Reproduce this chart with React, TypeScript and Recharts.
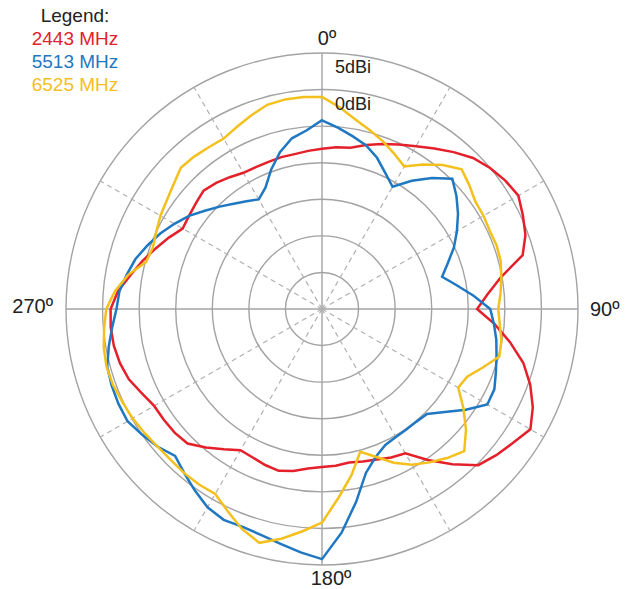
import React from 'react';
import { RadarChart, Radar, PolarGrid, PolarAngleAxis, PolarRadiusAxis } from 'recharts';

// azimuth in degrees, clockwise from the top
const angles = [
  0, 5, 10, 15, 20, 25, 30, 35, 40, 45, 50, 55, 60, 65, 70, 75, 80, 85,
  90, 95, 100, 105, 110, 115, 120, 125, 130, 135, 140, 145, 150, 155, 160, 165, 170, 175,
  180, 185, 190, 195, 200, 205, 210, 215, 220, 225, 230, 235, 240, 245, 250, 255, 260, 265,
  270, 275, 280, 285, 290, 295, 300, 305, 310, 315, 320, 325, 330, 335, 340, 345, 350, 355,
];

// gain in dBi at each angle
const gain2443 = [
  -8.1, -7.8, -7.6, -6.8, -6.0, -5.2, -4.3, -3.2, -2.0, -0.8, 0.0, 0.6, 1.0, 0.3, -0.4, -1.6, -5.2, -7.3,
  -8.8, -6.3, -3.9, -1.5, 0.3, 1.8, 2.9, 1.9, 1.1, 0.2, -2.3, -4.8, -7.2, -7.6, -8.1, -8.4, -8.7, -8.5,
  -8.4, -8.1, -7.5, -7.1, -7.3, -7.6, -7.7, -6.6, -5.3, -4.0, -3.7, -3.6, -3.5, -2.8, -1.9, -1.4, -1.1, -1.0,
  -1.1, -2.0, -3.4, -4.6, -5.8, -6.9, -8.0, -7.8, -7.5, -7.1, -7.5, -8.0, -8.5, -8.6, -8.6, -8.5, -8.5, -8.3,
];

const gain5513 = [
  -4.2, -5.1, -6.0, -6.8, -8.0, -9.5, -10.7, -8.6, -6.6, -4.8, -6.0, -7.3, -8.7, -10.1, -11.7, -13.0, -11.3, -9.2,
  -7.0, -6.4, -5.8, -5.3, -4.7, -4.0, -3.9, -6.0, -8.1, -9.7, -9.9, -9.9, -9.8, -9.5, -8.5, -6.8, -3.2, 0.7,
  4.2, 3.4, 2.6, 2.0, 1.7, 1.8, 1.3, 0.3, -0.7, -1.6, -0.7, 0.0, 0.7, 0.7, 0.6, 0.4, -0.4, -1.2,
  -1.9, -2.2, -2.9, -3.6, -4.6, -5.6, -6.7, -7.8, -9.1, -10.2, -11.2, -12.0, -12.7, -11.7, -9.7, -7.8, -6.3, -5.5,
];

const gain6525 = [
  -1.0, -2.3, -3.7, -4.7, -5.6, -6.6, -7.5, -5.9, -4.3, -3.0, -3.7, -4.4, -4.5, -4.7, -4.6, -4.7, -5.1, -5.5,
  -5.9, -5.6, -5.1, -4.9, -6.6, -8.1, -8.5, -6.4, -4.3, -2.5, -3.4, -4.4, -5.4, -6.8, -8.5, -9.8, -6.9, -4.1,
  -0.8, 0.5, 1.9, 3.1, 2.0, 0.5, -0.8, -0.7, -0.7, -0.8, -0.7, -0.4, -0.1, 0.1, 0.4, 0.5, 0.3, -0.1,
  -0.5, -1.6, -3.1, -5.1, -5.4, -5.0, -4.5, -4.1, -3.5, -2.7, -2.8, -3.0, -3.1, -2.5, -1.8, -1.1, -0.9, -0.9,
];

const series = [
  { key: 'mhz2443', name: '2443 MHz', color: '#e4202a' },
  { key: 'mhz5513', name: '5513 MHz', color: '#1f78c1' },
  { key: 'mhz6525', name: '6525 MHz', color: '#f3c01e' },
];

const angleLabels: Record<number, string> = { 0: '0º', 90: '90º', 180: '180º', 270: '270º' };
const radiusLabels: Record<number, string> = { 5: '5dBi', 0: '0dBi' };

const data = angles.map((angle, i) => ({
  angle,
  mhz2443: gain2443[i],
  mhz5513: gain5513[i],
  mhz6525: gain6525[i],
}));

const FONT = '"Liberation Sans", Arial, sans-serif';

// where each compass label sits relative to the tick point
const angleLabelOffset: Record<number, { dx: number; dy: number; anchor: 'start' | 'middle' | 'end' }> = {
  0: { dx: 5, dy: 0, anchor: 'middle' },
  90: { dx: 4, dy: 7, anchor: 'start' },
  180: { dx: 9, dy: 12, anchor: 'middle' },
  270: { dx: -5, dy: 4, anchor: 'end' },
};

const renderAngleTick = (props: any) => {
  const value = props.payload?.value;
  const label = angleLabels[value];
  if (!label) return <g />;
  const o = angleLabelOffset[value];
  return (
    <text x={props.x + o.dx} y={props.y + o.dy} textAnchor={o.anchor} fontSize={20} fontFamily={FONT} fill="#222">
      {label}
    </text>
  );
};

const renderRadiusTick = (props: any) => {
  const label = radiusLabels[props.payload?.value];
  if (!label) return <g />;
  return (
    <text x={props.x + 13} y={props.y + 20} textAnchor="start" fontSize={18} fontFamily={FONT} fill="#222">
      {label}
    </text>
  );
};

const App: React.FC = () => {
  return (
    <div style={{ position: 'absolute', left: 0, top: 0, width: 633, height: 589, background: '#fff' }}>
      <RadarChart
        width={633}
        height={589}
        data={data}
        cx={322}
        cy={309}
        outerRadius={256}
        startAngle={90}
        endAngle={-270}
        margin={{ top: 0, right: 0, bottom: 0, left: 0 }}
      >
        <PolarGrid gridType="circle" polarAngles={[0, 90, 180, 270]} stroke="#a3a3a3" strokeWidth={1.4} />
        <PolarGrid
          gridType="circle"
          polarAngles={[30, 60, 120, 150, 210, 240, 300, 330]}
          polarRadius={[]}
          stroke="#b0b0b0"
          strokeWidth={1.2}
          strokeDasharray="5 4"
        />
        <PolarAngleAxis dataKey="angle" axisLine={false} tickLine={false} tickSize={8} tick={renderAngleTick} />
        <PolarRadiusAxis
          angle={90}
          type="number"
          domain={[-30, 5]}
          tickCount={8}
          axisLine={false}
          tick={renderRadiusTick}
        />
        {series.map((s) => (
          <Radar
            key={s.key}
            name={s.name}
            dataKey={s.key}
            stroke={s.color}
            strokeWidth={2.5}
            fill="none"
            fillOpacity={0}
            dot={false}
            isAnimationActive={false}
          />
        ))}
      </RadarChart>
      <div
        style={{
          position: 'absolute',
          left: 0,
          top: 4,
          width: 150,
          textAlign: 'center',
          fontFamily: FONT,
          fontSize: 19,
          lineHeight: '23px',
        }}
      >
        <div style={{ color: '#222' }}>Legend:</div>
        {series.map((s) => (
          <div key={s.key} style={{ color: s.color }}>
            {s.name}
          </div>
        ))}
      </div>
    </div>
  );
};

export default App;
